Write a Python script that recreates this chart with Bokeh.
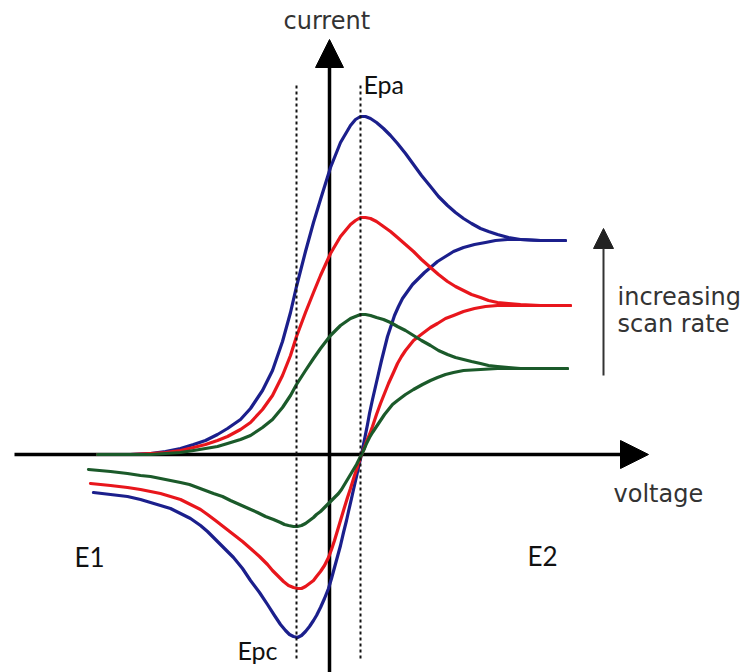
from bokeh.plotting import figure
from bokeh.models import Range1d, Arrow, NormalHead, Label
from bokeh.embed import file_html
from bokeh.resources import INLINE

# ---------------- data (voltage / current, arbitrary units; origin at axis crossing) ----------------
# forward (oxidation) scans share one voltage grid
fwd_v = [-232, -199, -179, -164, -149, -136, -124, -112, -102, -89,
         -79, -67, -57, -47, -39, -33, -24, -16, -9, 1,
         11, 21, 26, 31, 36, 41, 47, 54, 61, 68,
         76, 84, 92, 101, 109, 118, 126, 134, 142, 151,
         159, 168, 179, 191, 211, 236]
blue_fwd_i = [0, 0, 1, 3, 6, 10, 14, 20, 26, 35,
              46, 64, 84, 113, 142, 168, 203, 232, 255, 287,
              312, 329, 335, 338, 338, 336, 332, 326, 319, 311,
              301, 290, 279, 268, 258, 249, 242, 236, 231, 226,
              223, 220, 217, 215, 214, 214]
red_fwd_i = [0, 0, 1, 2, 4, 7, 10, 14, 18, 25,
             32, 45, 59, 79, 99, 118, 142, 162, 179, 201,
             218, 230, 234, 237, 237, 236, 233, 228, 223, 217,
             210, 203, 195, 187, 180, 173, 168, 164, 160, 157,
             154, 152, 151, 150, 149, 149]
green_fwd_i = [0, 0, 0, 1, 2, 4, 6, 8, 11, 15,
               19, 27, 35, 47, 59, 70, 84, 96, 106, 119,
               129, 136, 138, 140, 140, 139, 137, 135, 132, 128,
               124, 119, 114, 109, 104, 100, 97, 95, 93, 91,
               89, 88, 87, 86, 86, 86]
red_fwd_end_v = 241
green_fwd_end_v = 238

# reverse (reduction) scans, from E2 back to E1
blue_rev_v = [236, 211, 191, 178, 166, 156, 145, 134, 124, 116,
              108, 101, 95, 89, 83, 78, 73, 69, 65, 62,
              58, 55, 52, 49, 46, 43, 40, 38, 35, 32,
              29, 27, 24, 22, 19, 17, 14, 11, 8, 5,
              2, -1, -5, -9, -13, -16, -20, -24, -28, -32,
              -36, -40, -44, -49, -55, -62, -70, -79, -87, -96,
              -105, -114, -122, -129, -139, -149, -159, -169, -179, -189,
              -202, -219, -236]
blue_rev_i = [214, 214, 215, 215, 214, 212, 210, 207, 203, 198,
              193, 187, 182, 176, 170, 163, 156, 148, 139, 130,
              118, 106, 94, 81, 68, 55, 41, 30, 15, 0,
              -13, -22, -35, -44, -57, -66, -78, -91, -102, -113,
              -124, -134, -144, -153, -161, -166, -172, -177, -181, -183,
              -182, -180, -176, -170, -161, -150, -138, -126, -114, -103,
              -94, -85, -77, -71, -64, -59, -54, -51, -48, -45,
              -42, -40, -38]

red_rev_v = [241, 216, 191, 168, 156, 145, 134, 124, 116, 108,
             101, 93, 84, 76, 72, 68, 64, 59, 55, 51,
             47, 43, 40, 37, 35, 32, 29, 25, 21, 18,
             14, 11, 8, 5, 2, -1, -5, -9, -13, -16,
             -20, -24, -28, -32, -36, -41, -46, -52, -57, -62,
             -70, -79, -87, -96, -105, -114, -122, -129, -139, -149,
             -159, -169, -179, -189, -202, -219, -239]
red_rev_i = [149, 149, 149, 149, 148, 146, 143, 139, 136, 131,
             127, 121, 114, 104, 98, 91, 82, 71, 61, 51,
             40, 28, 20, 13, 7, 0, -9, -21, -34, -43,
             -56, -66, -76, -86, -95, -103, -111, -117, -122, -126,
             -129, -132, -134, -134, -133, -131, -127, -121, -116, -110,
             -102, -94, -87, -80, -73, -66, -60, -55, -50, -45,
             -42, -39, -37, -35, -33, -31, -29]

green_rev_v = [238, 211, 191, 168, 151, 134, 124, 116, 108, 101,
               93, 84, 76, 68, 63, 59, 55, 51, 47, 43,
               40, 37, 35, 32, 29, 27, 24, 21, 18, 15,
               12, 9, 4, -1, -5, -9, -13, -16, -20, -24,
               -28, -32, -36, -41, -45, -49, -56, -64, -72, -81,
               -90, -99, -107, -116, -124, -132, -140, -149, -159, -169,
               -179, -189, -202, -219, -241]
green_rev_i = [86, 86, 86, 86, 85, 84, 82, 80, 77, 74,
               70, 65, 60, 54, 50, 45, 40, 34, 28, 22,
               17, 11, 6, 0, -6, -10, -15, -20, -25, -30,
               -35, -39, -44, -49, -53, -57, -60, -63, -66, -69,
               -71, -72, -72, -71, -70, -68, -65, -62, -58, -54,
               -50, -46, -42, -39, -36, -33, -30, -28, -26, -24,
               -22, -21, -19, -17, -15]

# peak potentials
epc_v = -33
epa_v = 31

# ---------------- figure ----------------
p = figure(width=751, height=672, x_range=Range1d(-329, 422), y_range=Range1d(-218, 454),
           output_backend="svg", toolbar_location=None, x_axis_type=None, y_axis_type=None,
           min_border=0, outline_line_color=None, background_fill_color="white",
           border_fill_color="white")
p.grid.visible = False

# axes as arrows (drawn beneath the curves)
p.add_layout(Arrow(end=NormalHead(size=28, fill_color="black", line_color="black"),
                   x_start=-315, y_start=0, x_end=319, y_end=0,
                   line_color="black", line_width=3.5, level="underlay"))
p.add_layout(Arrow(end=NormalHead(size=28, fill_color="black", line_color="black"),
                   x_start=0, y_start=-218, x_end=0, y_end=415,
                   line_color="black", line_width=3.5, level="underlay"))

BLUE = "#1b1f8c"
RED = "#e8161c"
GREEN = "#1b5a2a"
LW = 3.2

curves = [
    (fwd_v, blue_fwd_i, BLUE), (blue_rev_v, blue_rev_i, BLUE),
    (fwd_v[:-1] + [red_fwd_end_v], red_fwd_i, RED), (red_rev_v, red_rev_i, RED),
    (fwd_v[:-1] + [green_fwd_end_v], green_fwd_i, GREEN), (green_rev_v, green_rev_i, GREEN),
]
for v, i, c in curves:
    p.line(v, i, line_color=c, line_width=LW, line_join="round", line_cap="round")

# dashed peak-potential markers
p.segment(x0=[epc_v, epa_v], y0=[-204, -204], x1=[epc_v, epa_v], y1=[370, 370],
          line_color="#111111", line_width=2, line_dash="3 3")

# scan-rate arrow
p.add_layout(Arrow(end=NormalHead(size=20, fill_color="#222222", line_color="#222222"),
                   x_start=274, y_start=79, x_end=274, y_end=226,
                   line_color="#333333", line_width=2))

# labels
def lab(x, y, t, font, size, color):
    p.add_layout(Label(x=x, y=y, text=t, text_font=font, text_font_size=f"{size}px",
                       text_color=color, text_baseline="alphabetic", text_align="left"))

SANS = "DejaVu Sans"
lab(-46, 434, "current", SANS, 24, "#333333")
lab(284, -39, "voltage", SANS, 24, "#333333")
lab(288, 158, "increasing", SANS, 24, "#333333")
lab(288, 131, "scan rate", SANS, 24, "#333333")

CAL = "Lato"
lab(34, 371, "Epa", CAL, 25, "#111111")
lab(-92, -195, "Epc", CAL, 25, "#111111")
lab(-255, -102, "E1", CAL, 26, "#111111")
lab(198, -101, "E2", CAL, 26, "#111111")

open("out.html", "w").write(file_html(p, INLINE))
